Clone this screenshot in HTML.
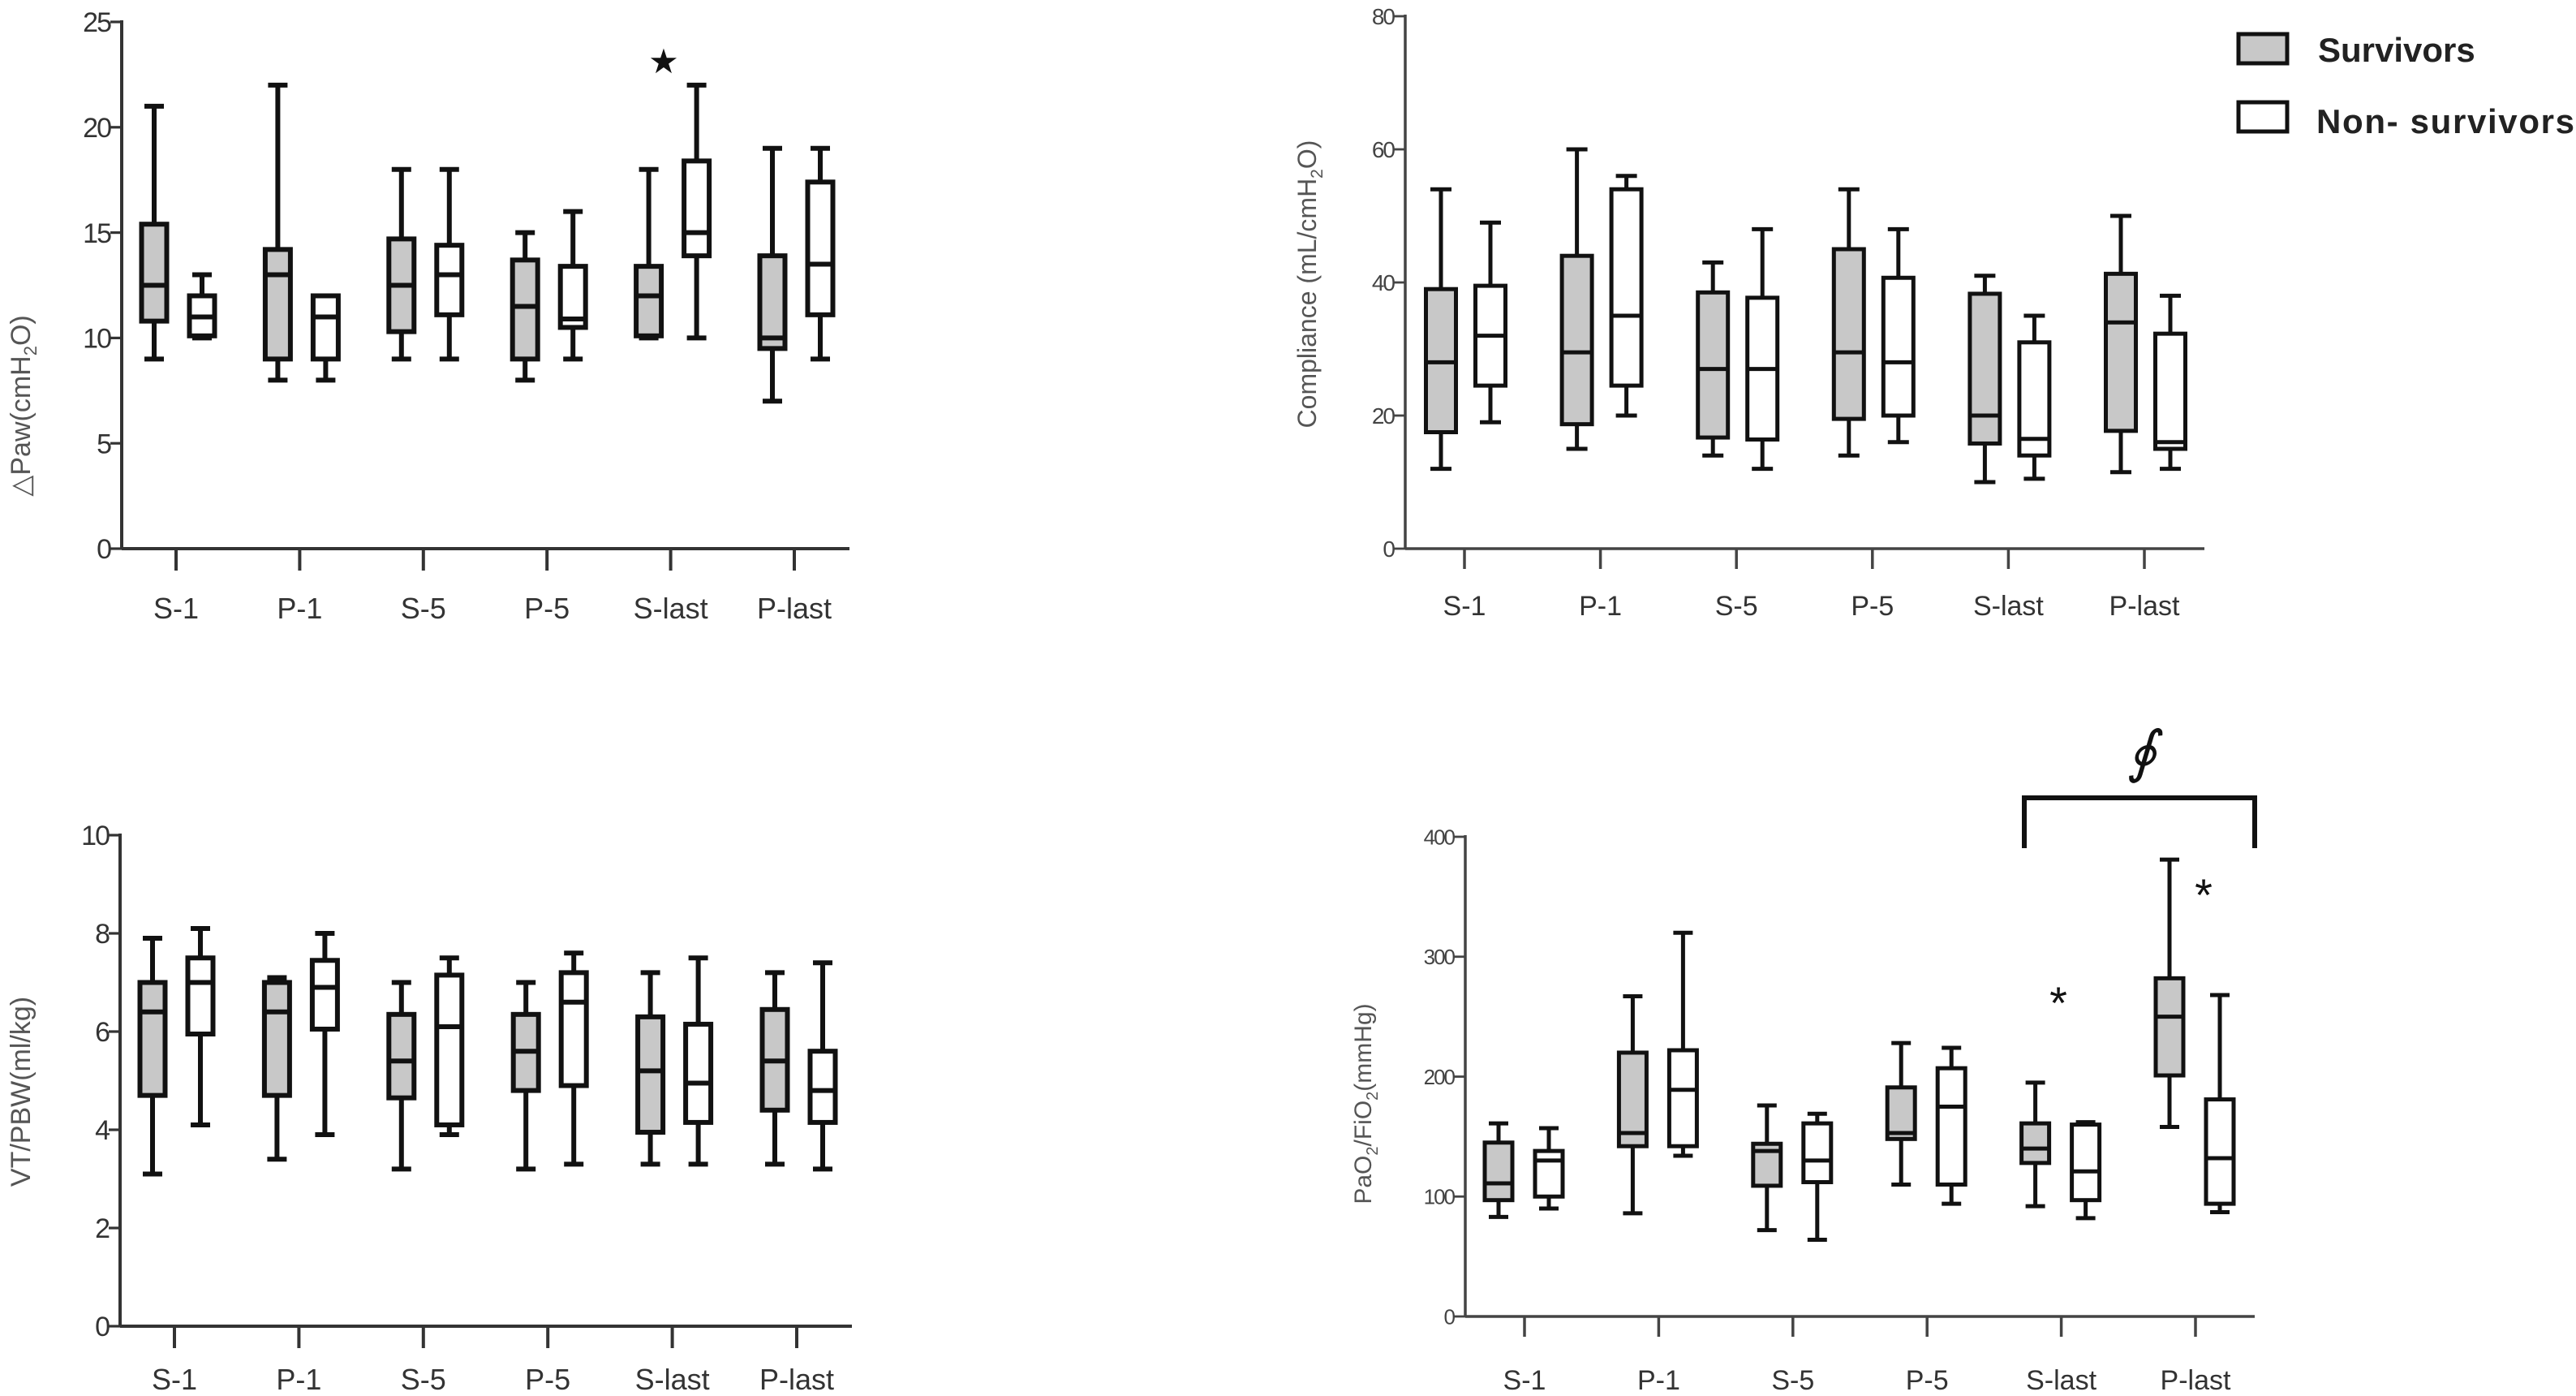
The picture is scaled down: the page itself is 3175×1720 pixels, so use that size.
<!DOCTYPE html>
<html><head><meta charset="utf-8"><style>
html,body{margin:0;padding:0;background:#fff;}
svg{display:block;}
text{font-family:"Liberation Sans",sans-serif;}
</style></head><body>
<svg id="fig" width="3175" height="1720" viewBox="0 0 3175 1720" xmlns="http://www.w3.org/2000/svg"></svg>
<script>
const categories = ["S-1","P-1","S-5","P-5","S-last","P-last"];
// each box: [max, q3, median, q1, min]
const pawSurvivors = [[21,15.4,12.5,10.8,9],[22,14.2,13,9,8],[18,14.7,12.5,10.3,9],[15,13.7,11.5,9,8],[18,13.4,12,10.1,10],[19,13.9,10,9.5,7]];
const pawNonSurvivors = [[13,12,11,10.1,10],[12,12,11,9,8],[18,14.4,13,11.1,9],[16,13.4,10.9,10.5,9],[22,18.4,15,13.9,10],[19,17.4,13.5,11.1,9]];
const pawTicks = [0,5,10,15,20,25];
const compSurvivors = [[54,39,28,17.5,12],[60,44,29.5,18.7,15],[43,38.5,27,16.7,14],[54,45,29.5,19.5,14],[41,38.3,20,15.8,10],[50,41.3,34,17.7,11.5]];
const compNonSurvivors = [[49,39.5,32,24.5,19],[56,54,35,24.5,20],[48,37.7,27,16.4,12],[48,40.7,28,20,16],[35,31,16.5,14,10.5],[38,32.3,16,15,12]];
const compTicks = [0,20,40,60,80];
const vtSurvivors = [[7.9,7,6.4,4.7,3.1],[7.1,7,6.4,4.7,3.4],[7,6.35,5.4,4.65,3.2],[7,6.35,5.6,4.8,3.2],[7.2,6.3,5.2,3.95,3.3],[7.2,6.45,5.4,4.4,3.3]];
const vtNonSurvivors = [[8.1,7.5,7,5.95,4.1],[8,7.45,6.9,6.05,3.9],[7.5,7.15,6.1,4.1,3.9],[7.6,7.2,6.6,4.9,3.3],[7.5,6.15,4.95,4.15,3.3],[7.4,5.6,4.8,4.15,3.2]];
const vtTicks = [0,2,4,6,8,10];
const pfSurvivors = [[161,145,111,97,83],[267,220,153,142,86],[176,144,138,109,72],[228,191,153,148,110],[195,161,140,128,92],[381,282,250,201,158]];
const pfNonSurvivors = [[157,138,130,100,90],[320,222,189,142,134],[169,161,130,112,64],[224,207,175,110,94],[162,160,121,97,82],[268,181,132,94,87]];
const pfTicks = [0,100,200,300,400];

const NS="http://www.w3.org/2000/svg";
const svg=document.getElementById('fig');
function mk(tag,attrs,parent){const e=document.createElementNS(NS,tag);for(const k in attrs)e.setAttribute(k,attrs[k]);(parent||svg).appendChild(e);return e;}

function drawChart(cfg){
  const g=mk('g',{});
  
  
  const ymax=cfg.ticks[cfg.ticks.length-1];
  const yScale=v=>cfg.y0-(v/ymax)*(cfg.y0-cfg.yTop);
  const xCat=i=>cfg.firstTick+i*cfg.step;
  const ya=mk('line',{x1:cfg.x0,y1:yScale(ymax)-2,x2:cfg.x0,y2:cfg.y0,stroke:cfg.axisColor,'stroke-width':cfg.axisW},g);
  
  
  const xa=mk('line',{x1:cfg.x0,y1:cfg.y0,x2:cfg.xEnd,y2:cfg.y0,stroke:cfg.axisColor,'stroke-width':cfg.axisW},g);
  
  
  cfg.ticks.forEach(t=>{
    const y=yScale(t);
    mk('line',{x1:cfg.x0-14,y1:y,x2:cfg.x0,y2:y,stroke:cfg.axisColor,'stroke-width':cfg.axisW*0.8},g);
    const tx=mk('text',{x:cfg.x0-14,y:y+cfg.tickFont*0.36,'text-anchor':'end','font-size':cfg.tickFont,fill:cfg.tickColor,'letter-spacing':'-2'},g);
    tx.textContent=t;
    
    
  });
  categories.forEach((c,i)=>{
    const x=xCat(i);
    mk('line',{x1:x,y1:cfg.y0,x2:x,y2:cfg.y0+cfg.catTickLen,stroke:cfg.axisColor,'stroke-width':cfg.axisW},g);
    const tx=mk('text',{x:x,y:cfg.labelY,'text-anchor':'middle','font-size':cfg.catFont,fill:'#333'},g);
    tx.textContent=c;
    
    
    [[cfg.s[i],cfg.sOff,'#c8c8c8','box-survivors'],[cfg.n[i],cfg.nOff,'#ffffff','box-non-survivors']].forEach(([d,off,fill,nm])=>{
      const cx=x+off, w=cfg.boxW, cap=cfg.capW;
      const bg=mk('g',{},g);
      
      
      const st={stroke:'#111','stroke-width':cfg.lineW,fill:'none'};
      mk('line',Object.assign({x1:cx,y1:yScale(d[0]),x2:cx,y2:yScale(d[1])},st),bg);
      mk('line',Object.assign({x1:cx,y1:yScale(d[3]),x2:cx,y2:yScale(d[4])},st),bg);
      mk('line',Object.assign({x1:cx-cap/2,y1:yScale(d[0]),x2:cx+cap/2,y2:yScale(d[0])},st),bg);
      mk('line',Object.assign({x1:cx-cap/2,y1:yScale(d[4]),x2:cx+cap/2,y2:yScale(d[4])},st),bg);
      mk('rect',{x:cx-w/2,y:yScale(d[1]),width:w,height:Math.max(1,yScale(d[3])-yScale(d[1])),fill:fill,stroke:'#111','stroke-width':cfg.lineW},bg);
      mk('line',Object.assign({x1:cx-w/2,y1:yScale(d[2]),x2:cx+w/2,y2:yScale(d[2])},st),bg);
    });
  });
  const tt=mk('text',{x:cfg.titleX,y:cfg.titleY,'text-anchor':'middle','font-size':cfg.titleFont,fill:'#555',transform:`rotate(-90 ${cfg.titleX} ${cfg.titleY})`},g);
  tt.innerHTML=cfg.title;
  
  
  return {yScale,xCat};
}

drawChart({name:'chart-delta-paw',x0:150,xEnd:1047,y0:676,yTop:27,ticks:pawTicks,firstTick:217,step:152.4,sOff:-27,nOff:32,boxW:31,capW:24,lineW:6,axisW:4,axisColor:'#333',tickFont:34,tickColor:'#333',catFont:36,catTickLen:27,labelY:762,s:pawSurvivors,n:pawNonSurvivors,titleX:37,titleY:500,titleFont:34,title:'△Paw(cmH<tspan font-size="22" dy="8">2</tspan><tspan dy="-8">O)</tspan>'});
drawChart({name:'chart-compliance',x0:1732,xEnd:2717,y0:676,yTop:20,ticks:compTicks,firstTick:1805,step:167.6,sOff:-29,nOff:32,boxW:37,capW:26,lineW:5,axisW:3.5,axisColor:'#444',tickFont:28,tickColor:'#444',catFont:34,catTickLen:25,labelY:758,s:compSurvivors,n:compNonSurvivors,titleX:1622,titleY:350,titleFont:32,title:'Compliance (mL/cmH<tspan font-size="21" dy="8">2</tspan><tspan dy="-8">O)</tspan>'});
drawChart({name:'chart-vt-pbw',x0:148,xEnd:1050,y0:1634,yTop:1029,ticks:vtTicks,firstTick:215,step:153.4,sOff:-27,nOff:32,boxW:31,capW:24,lineW:6,axisW:4,axisColor:'#333',tickFont:34,tickColor:'#333',catFont:36,catTickLen:27,labelY:1712,s:vtSurvivors,n:vtNonSurvivors,titleX:37,titleY:1345,titleFont:34,title:'VT/PBW(ml/kg)'});
drawChart({name:'chart-pao2-fio2',x0:1806,xEnd:2779,y0:1622,yTop:1031,ticks:pfTicks,firstTick:1879,step:165.4,sOff:-32,nOff:30,boxW:34,capW:24,lineW:5,axisW:3.5,axisColor:'#444',tickFont:26,tickColor:'#444',catFont:34,catTickLen:25,labelY:1712,s:pfSurvivors,n:pfNonSurvivors,titleX:1690,titleY:1360,titleFont:30,title:'PaO<tspan font-size="20" dy="8">2</tspan><tspan dy="-8">/FiO</tspan><tspan font-size="20" dy="8">2</tspan><tspan dy="-8">(mmHg)</tspan>'});

function txt(x,y,s,size,name,extra){const t=mk('text',Object.assign({x:x,y:y,'text-anchor':'middle','font-size':size,fill:'#111'},extra||{}));t.textContent=s;return t;}
txt(818,90,'★',42,'significance-star-paw');
txt(2537,1255,'*',56,'significance-star-s-last');
txt(2716,1122,'*',56,'significance-star-p-last');
const br=mk('path',{d:'M2495 1045 V983 H2779 V1045',fill:'none',stroke:'#111','stroke-width':6});


txt(2640,950,'∮',70,'phi-symbol',{'font-family':'Liberation Serif, serif','font-style':'italic'});

const lg=mk('g',{});


const l1=mk('rect',{x:2759,y:42,width:60,height:36,fill:'#c8c8c8',stroke:'#111','stroke-width':5},lg);


const l2=mk('rect',{x:2759,y:126,width:60,height:36,fill:'#fff',stroke:'#111','stroke-width':5},lg);


const t1=mk('text',{x:2857,y:76,'font-size':42,'font-weight':'bold',fill:'#222'},lg);
t1.textContent='Survivors';


const t2=mk('text',{x:2855,y:164,'font-size':42,'font-weight':'bold',fill:'#222',textLength:318},lg);
t2.textContent='Non- survivors';


</script>
</body></html>
